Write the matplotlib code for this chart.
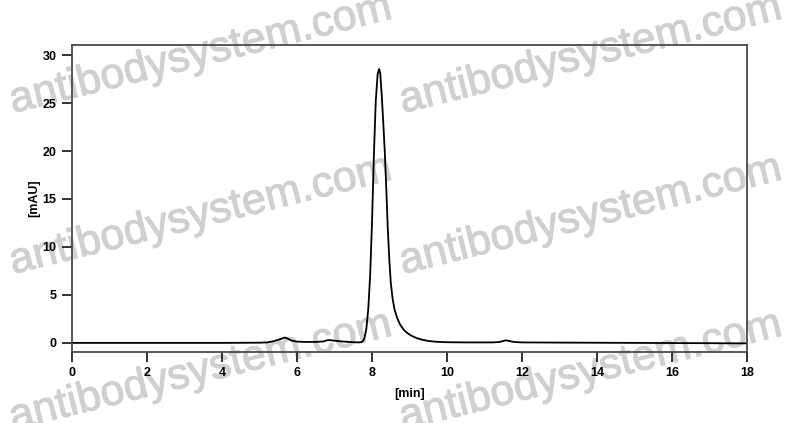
import numpy as np
import matplotlib
matplotlib.use("Agg")
from matplotlib import pyplot as plt
import matplotlib.patheffects as pe

# retention time [min] and absorbance [mAU]
time_min = [0.0, 2.0, 4.0, 5.0, 5.2, 5.35, 5.5, 5.6, 5.68, 5.75, 5.85, 6.0, 6.2,
            6.5, 6.7, 6.83, 6.95, 7.2, 7.5, 7.65, 7.72, 7.76, 7.80, 7.85, 7.90,
            7.95, 8.00, 8.05, 8.10, 8.15, 8.19, 8.22, 8.26, 8.30, 8.34, 8.38,
            8.42, 8.46, 8.50, 8.55, 8.60, 8.67, 8.75, 8.85, 8.95, 9.05, 9.20,
            9.35, 9.50, 9.70, 10.0, 10.5, 11.2, 11.4, 11.5, 11.57, 11.65, 11.8,
            12.0, 13.0, 15.0, 18.0]
signal_mau = [0.0, 0.0, 0.0, 0.02, 0.05, 0.15, 0.32, 0.45, 0.56, 0.45, 0.25, 0.13, 0.1,
              0.1, 0.15, 0.3, 0.25, 0.15, 0.07, 0.05, 0.08, 0.2, 0.5, 1.5, 3.5,
              7.0, 12.5, 19.5, 25.2, 28.0, 28.55, 28.1, 25.8, 23.0, 20.0, 16.2,
              12.0, 8.8, 6.3, 4.6, 3.5, 2.6, 1.9, 1.35, 1.0, 0.75, 0.48,
              0.32, 0.2, 0.12, 0.07, 0.05, 0.05, 0.09, 0.2, 0.27, 0.2, 0.09,
              0.05, 0.03, 0.0, -0.05]

x_ticks = [0, 2, 4, 6, 8, 10, 12, 14, 16, 18]
y_ticks = [0, 5, 10, 15, 20, 25, 30]

W, H = 793, 423
fig = plt.figure(figsize=(W / 100, H / 100), dpi=100)
ax = fig.add_axes([72 / W, 1 - 352 / H, (747 - 72) / W, (352 - 45) / H])
ax.set_facecolor("none")

ax.plot(time_min, signal_mau, color="black", lw=1.3)

ax.set_xlim(0, 18)
ax.set_ylim(-0.95, 31.05)
ax.set_xticks(x_ticks)
ax.set_yticks(y_ticks)

for s in ax.spines.values():
    s.set_color("#4a4a4a")
    s.set_linewidth(1.3)
ax.tick_params(direction="out", length=7, width=1.3, color="#222222",
               labelsize=9, pad=4)
for lab in ax.get_xticklabels() + ax.get_yticklabels():
    lab.set_fontweight("bold")
    lab.set_family("Liberation Sans")

ax.set_xlabel("[min]", fontsize=9, fontweight="bold", family="Liberation Sans",
              labelpad=6)
ax.set_ylabel("[mAU]", fontsize=9, fontweight="bold", family="Liberation Sans",
              labelpad=2)

# watermark grid, drawn behind the axes
for y0 in (113, 274, 430):
    for x0 in (13, 403):
        fig.text(x0 / W, 1 - y0 / H, "antibodysystem.com", fontsize=31,
                 family="Liberation Sans", color="#d0d0d0",
                 rotation=14, rotation_mode="anchor", ha="left",
                 va="baseline", zorder=-5,
                 path_effects=[pe.withStroke(linewidth=0.8, foreground="#d0d0d0")])

fig.savefig("out.png", dpi=100)
